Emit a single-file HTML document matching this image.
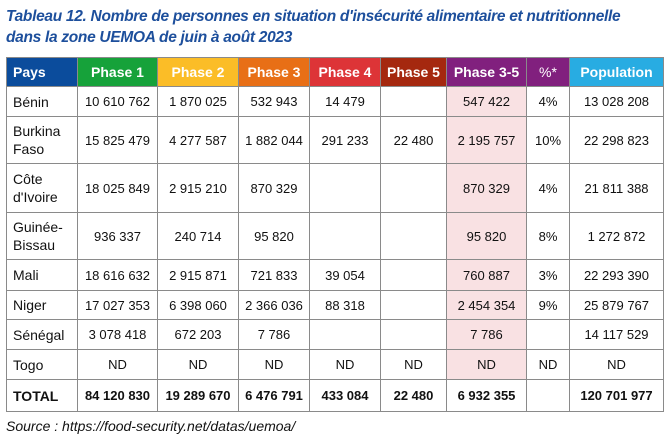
<!DOCTYPE html>
<html><head><meta charset="utf-8"><style>
body{margin:0;width:669px;height:438px;background:#fff;font-family:"Liberation Sans",sans-serif;position:relative;overflow:hidden}
.title{position:absolute;left:6px;top:6px;color:#1d4f9c;font-weight:bold;font-style:italic;font-size:15.5px;line-height:21px;letter-spacing:-0.3px}
table{position:absolute;left:6px;top:57px;border-collapse:collapse;table-layout:fixed;font-size:13px;color:#111}
td,th{border:1.5px solid #8a8a8a;padding:0;text-align:center}
th{color:#fff;font-weight:bold;font-size:14px;height:28px}
td.p{text-align:left;padding-left:6px;font-size:14px;line-height:18px}
td.h{background:#f9e1e3}
tr.t td{font-weight:bold}
.src{position:absolute;left:6px;top:418px;font-style:italic;font-size:14px;color:#111}
</style></head><body>
<div class="title">Tableau 12. Nombre de personnes en situation d'insécurité alimentaire et nutritionnelle<br>dans la zone UEMOA de juin à août 2023</div>
<table>
<colgroup><col style="width:71px"><col style="width:80px"><col style="width:81px"><col style="width:71px"><col style="width:71px"><col style="width:66px"><col style="width:80px"><col style="width:43px"><col style="width:94px"></colgroup>
<tr>
<th style="background:#0b4c9c;text-align:left;padding-left:6px">Pays</th>
<th style="background:#16a23a">Phase 1</th>
<th style="background:#fbbd27">Phase 2</th>
<th style="background:#e86f16">Phase 3</th>
<th style="background:#dd3437">Phase 4</th>
<th style="background:#a5280f">Phase 5</th>
<th style="background:#81207e">Phase 3-5</th>
<th style="background:#81207e;font-weight:normal">%*</th>
<th style="background:#28ace2">Population</th>
</tr>
<tr style="height:30px"><td class="p">Bénin</td><td>10 610 762</td><td>1 870 025</td><td>532 943</td><td>14 479</td><td></td><td class="h">547 422</td><td>4%</td><td>13 028 208</td></tr>
<tr style="height:47px"><td class="p">Burkina<br>Faso</td><td>15 825 479</td><td>4 277 587</td><td>1 882 044</td><td>291 233</td><td>22 480</td><td class="h">2 195 757</td><td>10%</td><td>22 298 823</td></tr>
<tr style="height:49px"><td class="p">Côte<br>d'Ivoire</td><td>18 025 849</td><td>2 915 210</td><td>870 329</td><td></td><td></td><td class="h">870 329</td><td>4%</td><td>21 811 388</td></tr>
<tr style="height:47px"><td class="p">Guinée-<br>Bissau</td><td>936 337</td><td>240 714</td><td>95 820</td><td></td><td></td><td class="h">95 820</td><td>8%</td><td>1 272 872</td></tr>
<tr style="height:31px"><td class="p">Mali</td><td>18 616 632</td><td>2 915 871</td><td>721 833</td><td>39 054</td><td></td><td class="h">760 887</td><td>3%</td><td>22 293 390</td></tr>
<tr style="height:29px"><td class="p">Niger</td><td>17 027 353</td><td>6 398 060</td><td>2 366 036</td><td>88 318</td><td></td><td class="h">2 454 354</td><td>9%</td><td>25 879 767</td></tr>
<tr style="height:30px"><td class="p">Sénégal</td><td>3 078 418</td><td>672 203</td><td>7 786</td><td></td><td></td><td class="h">7 786</td><td></td><td>14 117 529</td></tr>
<tr style="height:30px"><td class="p">Togo</td><td>ND</td><td>ND</td><td>ND</td><td>ND</td><td>ND</td><td class="h">ND</td><td>ND</td><td>ND</td></tr>
<tr class="t" style="height:32px"><td class="p">TOTAL</td><td>84 120 830</td><td>19 289 670</td><td>6 476 791</td><td>433 084</td><td>22 480</td><td>6 932 355</td><td></td><td>120 701 977</td></tr>
</table>
<div class="src">Source : https://food-security.net/datas/uemoa/</div>
</body></html>
